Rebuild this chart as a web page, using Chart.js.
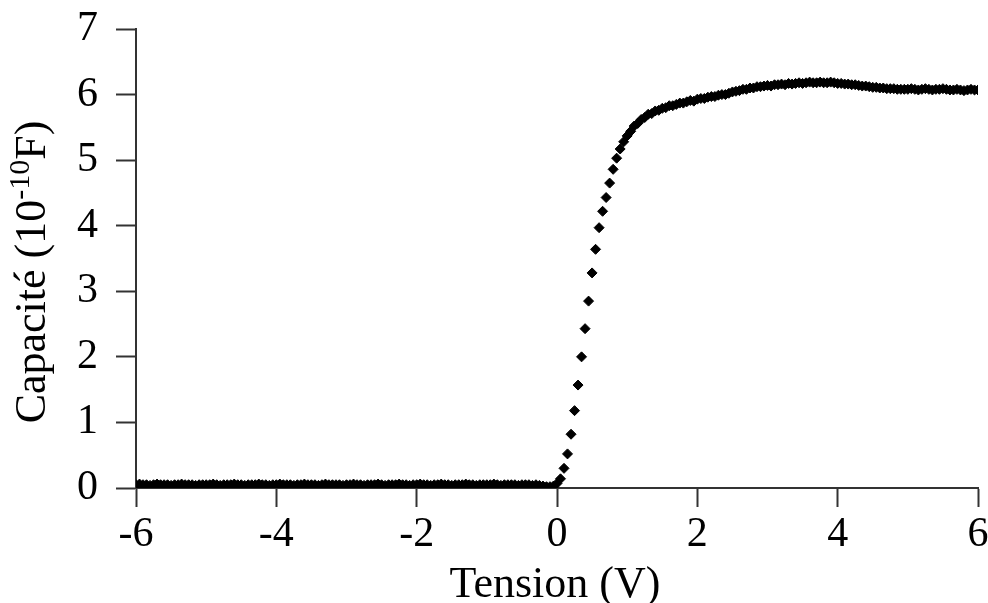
<!DOCTYPE html>
<html>
<head>
<meta charset="utf-8">
<script src="https://cdn.jsdelivr.net/npm/chart.js@4/dist/chart.umd.min.js"></script>
<style>
  html, body { margin: 0; padding: 0; background: #fff; }
  canvas { display: block; }
</style>
</head>
<body>
<canvas id="cv" width="988" height="603"></canvas>
<script>
// tension (V), pas de 0.05 V
const voltage = [
  -6, -5.95, -5.9, -5.85, -5.8, -5.75, -5.7, -5.65, -5.6, -5.55, -5.5, -5.45, -5.4, -5.35, -5.3, -5.25, -5.2, -5.15, -5.1, -5.05,
  -5, -4.95, -4.9, -4.85, -4.8, -4.75, -4.7, -4.65, -4.6, -4.55, -4.5, -4.45, -4.4, -4.35, -4.3, -4.25, -4.2, -4.15, -4.1, -4.05,
  -4, -3.95, -3.9, -3.85, -3.8, -3.75, -3.7, -3.65, -3.6, -3.55, -3.5, -3.45, -3.4, -3.35, -3.3, -3.25, -3.2, -3.15, -3.1, -3.05,
  -3, -2.95, -2.9, -2.85, -2.8, -2.75, -2.7, -2.65, -2.6, -2.55, -2.5, -2.45, -2.4, -2.35, -2.3, -2.25, -2.2, -2.15, -2.1, -2.05,
  -2, -1.95, -1.9, -1.85, -1.8, -1.75, -1.7, -1.65, -1.6, -1.55, -1.5, -1.45, -1.4, -1.35, -1.3, -1.25, -1.2, -1.15, -1.1, -1.05,
  -1, -0.95, -0.9, -0.85, -0.8, -0.75, -0.7, -0.65, -0.6, -0.55, -0.5, -0.45, -0.4, -0.35, -0.3, -0.25, -0.2, -0.15, -0.1, -0.05,
  0, 0.05, 0.1, 0.15, 0.2, 0.25, 0.3, 0.35, 0.4, 0.45, 0.5, 0.55, 0.6, 0.65, 0.7, 0.75, 0.8, 0.85, 0.9, 0.95,
  1, 1.05, 1.1, 1.15, 1.2, 1.25, 1.3, 1.35, 1.4, 1.45, 1.5, 1.55, 1.6, 1.65, 1.7, 1.75, 1.8, 1.85, 1.9, 1.95,
  2, 2.05, 2.1, 2.15, 2.2, 2.25, 2.3, 2.35, 2.4, 2.45, 2.5, 2.55, 2.6, 2.65, 2.7, 2.75, 2.8, 2.85, 2.9, 2.95,
  3, 3.05, 3.1, 3.15, 3.2, 3.25, 3.3, 3.35, 3.4, 3.45, 3.5, 3.55, 3.6, 3.65, 3.7, 3.75, 3.8, 3.85, 3.9, 3.95,
  4, 4.05, 4.1, 4.15, 4.2, 4.25, 4.3, 4.35, 4.4, 4.45, 4.5, 4.55, 4.6, 4.65, 4.7, 4.75, 4.8, 4.85, 4.9, 4.95,
  5, 5.05, 5.1, 5.15, 5.2, 5.25, 5.3, 5.35, 5.4, 5.45, 5.5, 5.55, 5.6, 5.65, 5.7, 5.75, 5.8, 5.85, 5.9, 5.95,
  6
];

// capacité (10^-10 F)
const capacitance = [
  0.05, 0.06, 0.05, 0.05, 0.04, 0.05, 0.06, 0.05, 0.05, 0.05, 0.04, 0.05, 0.05, 0.06, 0.05, 0.05, 0.05, 0.04, 0.05, 0.05,
  0.05, 0.05, 0.06, 0.05, 0.04, 0.05, 0.05, 0.05, 0.06, 0.05, 0.05, 0.04, 0.05, 0.05, 0.05, 0.06, 0.05, 0.05, 0.04, 0.05,
  0.05, 0.06, 0.05, 0.05, 0.05, 0.04, 0.05, 0.05, 0.06, 0.05, 0.05, 0.05, 0.04, 0.05, 0.06, 0.05, 0.05, 0.05, 0.05, 0.04,
  0.05, 0.05, 0.06, 0.05, 0.05, 0.04, 0.05, 0.05, 0.05, 0.06, 0.05, 0.04, 0.05, 0.05, 0.05, 0.06, 0.05, 0.05, 0.04, 0.05,
  0.05, 0.06, 0.05, 0.05, 0.04, 0.05, 0.05, 0.06, 0.05, 0.05, 0.04, 0.05, 0.05, 0.05, 0.06, 0.05, 0.05, 0.04, 0.05, 0.05,
  0.05, 0.05, 0.06, 0.05, 0.04, 0.05, 0.05, 0.05, 0.05, 0.04, 0.05, 0.05, 0.05, 0.04, 0.05, 0.04, 0.03, 0.02, 0.02, 0.03,
  0.07, 0.14, 0.30, 0.52, 0.82, 1.18, 1.57, 2.00, 2.43, 2.85, 3.28, 3.64, 3.97, 4.22, 4.43, 4.65, 4.86, 5.03, 5.17, 5.28,
  5.37, 5.44, 5.52, 5.56, 5.62, 5.65, 5.70, 5.71, 5.75, 5.76, 5.79, 5.80, 5.83, 5.83, 5.85, 5.87, 5.87, 5.89, 5.91, 5.90,
  5.93, 5.94, 5.94, 5.96, 5.97, 5.97, 5.99, 6.00, 6.00, 6.02, 6.04, 6.05, 6.06, 6.08, 6.08, 6.10, 6.10, 6.12, 6.12, 6.13,
  6.14, 6.13, 6.15, 6.15, 6.16, 6.15, 6.17, 6.16, 6.17, 6.18, 6.17, 6.18, 6.19, 6.18, 6.18, 6.19, 6.18, 6.18, 6.19, 6.18,
  6.17, 6.17, 6.16, 6.16, 6.15, 6.15, 6.14, 6.13, 6.13, 6.12, 6.11, 6.11, 6.10, 6.10, 6.09, 6.09, 6.09, 6.08, 6.08, 6.08,
  6.08, 6.09, 6.08, 6.07, 6.08, 6.09, 6.08, 6.07, 6.08, 6.08, 6.09, 6.08, 6.07, 6.07, 6.08, 6.07, 6.06, 6.07, 6.08, 6.07,
  6.07
];

const xTicks = [-6, -4, -2, 0, 2, 4, 6];
const xTickLabels = ['-6', '-4', '-2', '0', '2', '4', '6'];
const yTicks = [0, 1, 2, 3, 4, 5, 6, 7];
const yTickLabels = ['0', '1', '2', '3', '4', '5', '6', '7'];

const xTitle = 'Tension (V)';
const yTitleMain = 'Capacité (10';
const yTitleSup = '-10';
const yTitleEnd = 'F)';

const FONT = '"Liberation Serif", "Times New Roman", serif';
const AXIS = '#333';

// titres des axes (exposant pour 10^-10)
const axisTitles = {
  id: 'axisTitles',
  afterDraw(chart) {
    const ctx = chart.ctx;
    ctx.save();
    ctx.fillStyle = '#000';
    ctx.textBaseline = 'alphabetic';

    ctx.font = '44px ' + FONT;
    ctx.textAlign = 'center';
    ctx.fillText(xTitle, 555, 597);

    ctx.translate(45, 272);
    ctx.rotate(-Math.PI / 2);
    ctx.textAlign = 'left';
    const big = '44px ' + FONT, small = '30px ' + FONT;
    ctx.font = big;
    const w1 = ctx.measureText(yTitleMain).width;
    const w3 = ctx.measureText(yTitleEnd).width;
    ctx.font = small;
    const w2 = ctx.measureText(yTitleSup).width;
    let x = -(w1 + w2 + w3) / 2;
    ctx.font = big;
    ctx.fillText(yTitleMain, x, 0);
    x += w1;
    ctx.font = small;
    ctx.fillText(yTitleSup, x, -16);
    x += w2;
    ctx.font = big;
    ctx.fillText(yTitleEnd, x, 0);
    ctx.restore();
  }
};

const points = voltage.map((v, i) => ({ x: v, y: capacitance[i] }));

new Chart(document.getElementById('cv'), {
  type: 'scatter',
  data: {
    datasets: [{
      data: points,
      pointStyle: 'rectRot',
      pointRadius: 5,
      pointBorderWidth: 1,
      backgroundColor: '#000',
      borderColor: '#000',
      clip: 0
    }]
  },
  options: {
    responsive: false,
    animation: false,
    devicePixelRatio: 1,
    layout: { padding: { top: 29, right: 10, left: 0, bottom: 0 } },
    plugins: { legend: { display: false }, tooltip: { enabled: false } },
    scales: {
      x: {
        type: 'linear',
        min: -6,
        max: 6,
        afterBuildTicks: s => { s.ticks = xTicks.map(v => ({ value: v })); },
        afterFit: s => { s.height = 115; s.paddingLeft = 0; s.paddingRight = 0; },
        grid: { drawOnChartArea: false, tickLength: 19, tickColor: AXIS, tickWidth: 2 },
        border: { color: AXIS, width: 2 },
        ticks: {
          autoSkip: false, maxRotation: 0, padding: 3, color: '#000',
          font: { family: FONT, size: 42 },
          callback: (v) => xTickLabels[xTicks.indexOf(v)]
        }
      },
      y: {
        type: 'linear',
        min: 0,
        max: 7,
        afterBuildTicks: s => { s.ticks = yTicks.map(v => ({ value: v })); },
        afterFit: s => { s.width = 136; s.paddingTop = 0; s.paddingBottom = 0; },
        grid: { drawOnChartArea: false, tickLength: 20, tickColor: AXIS, tickWidth: 2 },
        border: { color: AXIS, width: 2 },
        ticks: {
          autoSkip: false, padding: 18, color: '#000',
          font: { family: FONT, size: 42 },
          callback: (v) => yTickLabels[yTicks.indexOf(v)]
        }
      }
    }
  },
  plugins: [axisTitles]
});
</script>
</body>
</html>
